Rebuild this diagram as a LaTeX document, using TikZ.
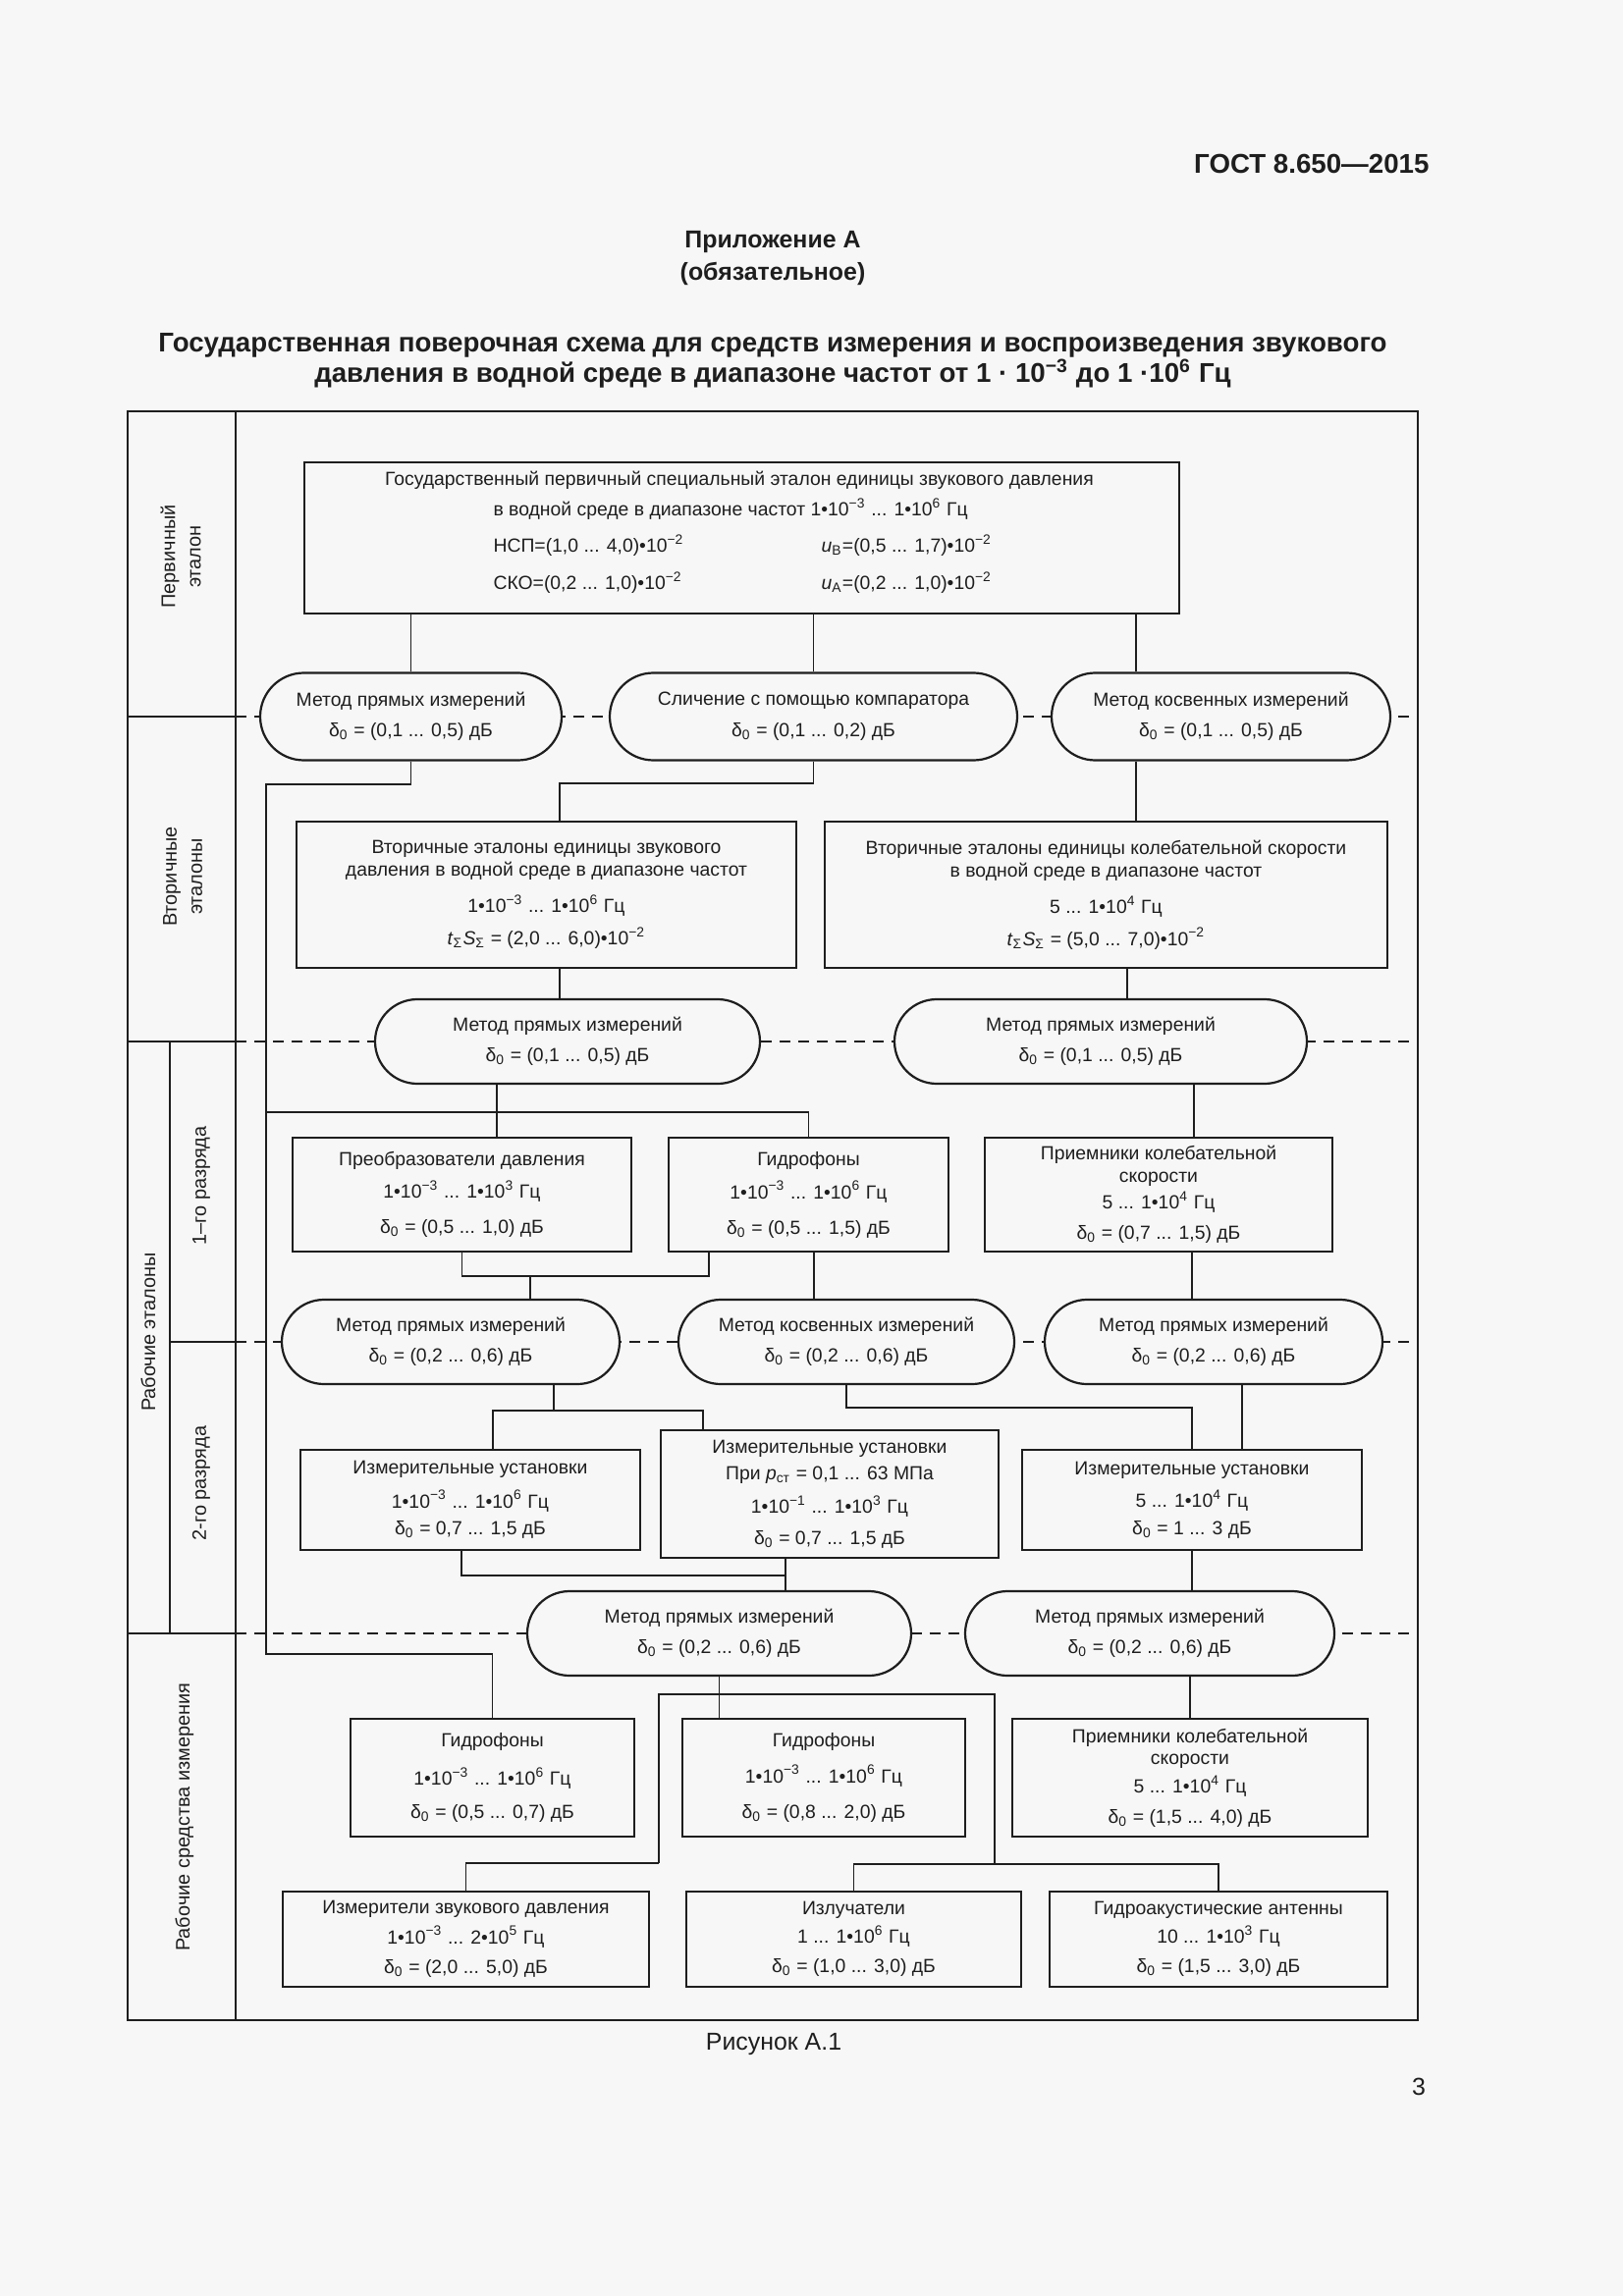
\documentclass[tikz,border=0pt]{standalone}
\usepackage{fontspec}
\setmainfont{Liberation Sans}
\usetikzlibrary{shapes.misc, positioning}

\definecolor{pagebg}{HTML}{F7F7F7}
\definecolor{ink}{HTML}{1E1E1E}

\newcommand{\pxl}{0.127mm}
\newcommand{\dz}{δ\textsubscript{0}}
\newcommand{\tp}[1]{10\textsuperscript{#1}}
\newcommand{\schfont}{\fontsize{7}{8.2}\selectfont}

\begin{document}
\begin{tikzpicture}[
    x=\pxl, y=-\pxl,
    every node/.style={text=ink},
    box/.style={
        rectangle, draw=ink, fill=pagebg,
        line width=1pt, inner sep=0pt,
        align=center, font=\schfont
    },
    method/.style={
        rounded rectangle, draw=ink, fill=pagebg,
        line width=0.8pt, inner sep=0pt,
        minimum height=86*\pxl,
        align=center, font=\schfont
    },
    txt/.style={inner sep=0pt, font=\schfont},
    side/.style={rotate=90, inner sep=0pt, align=center, font=\fontsize{7.2}{9.4}\selectfont},
    link/.style={draw=ink, line width=0.65pt},
    frameline/.style={draw=ink, line width=1pt},
    sepdash/.style={draw=ink, line width=0.8pt, dash pattern=on 4pt off 2.9pt},
]

\fill[pagebg] (0,0) rectangle (1653,2339);

% HEADER
\node[font=\bfseries\fontsize{10}{12}\selectfont, anchor=east, inner sep=0pt] (gost) at (1456,167) {ГОСТ 8.650—2015};
\node[font=\bfseries\fontsize{9}{11}\selectfont] (app) at (787,247) {Приложение А};
\node[font=\bfseries\fontsize{9}{11}\selectfont] (appnote) at (787,279) {(обязательное)};
\node[font=\bfseries\fontsize{10}{11.2}\selectfont, align=center] (title) at (787,367)
    {Государственная поверочная схема для средств измерения и воспроизведения звукового\\
     давления в водной среде в диапазоне частот от 1 · \tp{−3} до 1 ·\tp{6} Гц};

% FRAME
\draw[frameline] (130,419) rectangle (1444,2058);
\draw[frameline] (240,419) -- (240,2058);
\draw[frameline] (173,1061) -- (173,1664);
\draw[frameline] (130,730) -- (240,730);
\draw[frameline] (130,1061) -- (240,1061);
\draw[frameline] (173,1367) -- (240,1367);
\draw[frameline] (130,1664) -- (240,1664);
\draw[sepdash] (240,730) -- (1444,730);
\draw[sepdash] (240,1061) -- (1444,1061);
\draw[sepdash] (240,1367) -- (1444,1367);
\draw[sepdash] (240,1664) -- (1444,1664);

\node[side] (lab-prim) at (184,567) {Первичный\\эталон};
\node[side] (lab-sec) at (186,893) {Вторичные\\эталоны};
\node[side] (lab-work) at (151,1357) {Рабочие эталоны};
\node[side] (lab-r1) at (205,1208) {1–го разряда};
\node[side] (lab-r2) at (205,1511) {2-го разряда};
\node[side] (lab-tools) at (188,1851) {Рабочие средства измерения};

% PRIMARY STANDARD
\node[box, minimum width=891*\pxl, minimum height=154*\pxl] (prim) at (755.5,548) {};
\node[txt] (prim-t1) at (753,489) {Государственный первичный специальный эталон единицы звукового давления};
\node[txt, anchor=west] (prim-t2) at (502,519) {в водной среде в диапазоне частот 1•\tp{−3} ... 1•\tp{6} Гц};
\node[txt, anchor=west] (prim-nsp) at (502,556) {НСП=(1,0 ... 4,0)•\tp{−2}};
\node[txt, anchor=west] (prim-ub) at (836,556) {\textit{u}\textsubscript{B}=(0,5 ... 1,7)•\tp{−2}};
\node[txt, anchor=west] (prim-sko) at (502,594) {СКО=(0,2 ... 1,0)•\tp{−2}};
\node[txt, anchor=west] (prim-ua) at (836,594) {\textit{u}\textsubscript{A}=(0,2 ... 1,0)•\tp{−2}};

% ROW 1
\node[method, minimum width=307*\pxl, minimum height=89*\pxl] (direct1) at (418.5,730)
    {Метод прямых измерений\\[3.2pt]\dz{} = (0,1 ... 0,5) дБ};
\node[method, minimum width=415*\pxl, minimum height=89*\pxl] (compar) at (828.5,730)
    {Сличение с помощью компаратора\\[3.2pt]\dz{} = (0,1 ... 0,2) дБ};
\node[method, minimum width=345*\pxl, minimum height=89*\pxl] (indirect1) at (1243.5,730)
    {Метод косвенных измерений\\[3.2pt]\dz{} = (0,1 ... 0,5) дБ};

% SECONDARY STANDARDS
\node[box, minimum width=509*\pxl, minimum height=149*\pxl] (secP) at (556.5,911.5)
    {Вторичные эталоны единицы звукового\\[0.2pt]давления в водной среде в диапазоне частот\\[5.2pt]
     1•\tp{−3} ... 1•\tp{6} Гц\\[3.6pt]\textit{t}\textsubscript{Σ}\textit{S}\textsubscript{Σ} = (2,0 ... 6,0)•\tp{−2}};
\node[box, minimum width=573*\pxl, minimum height=149*\pxl] (secV) at (1126.5,911.5)
    {Вторичные эталоны единицы колебательной скорости\\[0.2pt]в водной среде в диапазоне частот\\[5.2pt]
     5 ... 1•\tp{4} Гц\\[3.6pt]\textit{t}\textsubscript{Σ}\textit{S}\textsubscript{Σ} = (5,0 ... 7,0)•\tp{−2}};

% ROW 3
\node[method, minimum width=392*\pxl] (direct2a) at (578,1061)
    {Метод прямых измерений\\[3.2pt]\dz{} = (0,1 ... 0,5) дБ};
\node[method, minimum width=420*\pxl] (direct2b) at (1121,1061)
    {Метод прямых измерений\\[3.2pt]\dz{} = (0,1 ... 0,5) дБ};

% 1-ST GRADE
\node[box, minimum width=345*\pxl, minimum height=116*\pxl] (convP) at (470.5,1217)
    {Преобразователи давления\\[3.7pt]1•\tp{−3} ... 1•\tp{3} Гц\\[4.7pt]\dz{} = (0,5 ... 1,0) дБ};
\node[box, minimum width=285*\pxl, minimum height=116*\pxl] (hyd1) at (823.5,1217)
    {Гидрофоны\\[4.2pt]1•\tp{−3} ... 1•\tp{6} Гц\\[4.7pt]\dz{} = (0,5 ... 1,5) дБ};
\node[box, minimum width=354*\pxl, minimum height=116*\pxl] (recv1) at (1180,1217)
    {Приемники колебательной\\[0pt]скорости\\[1.7pt]5 ... 1•\tp{4} Гц\\[2.9pt]\dz{} = (0,7 ... 1,5) дБ};

% ROW 5
\node[method, minimum width=344*\pxl] (direct3a) at (459,1367)
    {Метод прямых измерений\\[3.2pt]\dz{} = (0,2 ... 0,6) дБ};
\node[method, minimum width=342*\pxl] (indirect3) at (862,1367)
    {Метод косвенных измерений\\[3.2pt]\dz{} = (0,2 ... 0,6) дБ};
\node[method, minimum width=344*\pxl] (direct3b) at (1236,1367)
    {Метод прямых измерений\\[3.2pt]\dz{} = (0,2 ... 0,6) дБ};

% 2-ND GRADE
\node[box, minimum width=346*\pxl, minimum height=102*\pxl] (instP) at (479,1528)
    {Измерительные установки\\[4.2pt]1•\tp{−3} ... 1•\tp{6} Гц\\[1.7pt]\dz{} = 0,7 ... 1,5 дБ};
\node[box, minimum width=344*\pxl, minimum height=130*\pxl] (instH) at (845,1522)
    {Измерительные установки\\[1.7pt]При \textit{p}\textsubscript{ст} = 0,1 ... 63 МПа\\[4.2pt]1•\tp{−1} ... 1•\tp{3} Гц\\[3.2pt]\dz{} = 0,7 ... 1,5 дБ};
\node[box, minimum width=346*\pxl, minimum height=102*\pxl] (instV) at (1214,1528)
    {Измерительные установки\\[3.9pt]5 ... 1•\tp{4} Гц\\[1.7pt]\dz{} = 1 ... 3 дБ};

% ROW 7
\node[method, minimum width=391*\pxl] (direct4a) at (732.5,1664)
    {Метод прямых измерений\\[3.2pt]\dz{} = (0,2 ... 0,6) дБ};
\node[method, minimum width=376*\pxl] (direct4b) at (1171,1664)
    {Метод прямых измерений\\[3.2pt]\dz{} = (0,2 ... 0,6) дБ};

% WORKING INSTRUMENTS
\node[box, minimum width=289*\pxl, minimum height=120*\pxl] (hyd2a) at (501.5,1811)
    {Гидрофоны\\[6pt]1•\tp{−3} ... 1•\tp{6} Гц\\[4pt]\dz{} = (0,5 ... 0,7) дБ};
\node[box, minimum width=288*\pxl, minimum height=120*\pxl] (hyd2b) at (839,1811)
    {Гидрофоны\\[5pt]1•\tp{−3} ... 1•\tp{6} Гц\\[5pt]\dz{} = (0,8 ... 2,0) дБ};
\node[box, minimum width=362*\pxl, minimum height=120*\pxl] (recv2) at (1212,1811)
    {Приемники колебательной\\[0pt]скорости\\[2.2pt]5 ... 1•\tp{4} Гц\\[2.9pt]\dz{} = (1,5 ... 4,0) дБ};
\node[box, minimum width=373*\pxl, minimum height=97*\pxl] (meterP) at (474.5,1975.5)
    {Измерители звукового давления\\[2.9pt]1•\tp{−3} ... 2•\tp{5} Гц\\[2.9pt]\dz{} = (2,0 ... 5,0) дБ};
\node[box, minimum width=341*\pxl, minimum height=97*\pxl] (emit) at (869.5,1975.5)
    {Излучатели\\[2.3pt]1 ... 1•\tp{6} Гц\\[2.5pt]\dz{} = (1,0 ... 3,0) дБ};
\node[box, minimum width=344*\pxl, minimum height=97*\pxl] (antenna) at (1241,1975.5)
    {Гидроакустические антенны\\[2.3pt]10 ... 1•\tp{3} Гц\\[2.5pt]\dz{} = (1,5 ... 3,0) дБ};

% CONNECTORS
\coordinate (x3) at (1157,0);
\draw[link] (prim.south -| direct1.north) -- (direct1.north);
\draw[link] (prim.south -| compar.north) -- (compar.north);
\draw[link] (prim.south -| x3) -- (indirect1.north -| x3);

\coordinate (trunk1) at (271,799);
\coordinate (trunk2) at (271,1685);
\coordinate (br1) at (271,1133);
\draw[link] (direct1.south) |- (trunk1) -- (trunk2) -| (hyd2a.north);
\draw[link] (br1) -| (hyd1.north);

\coordinate (xA) at (570,798);
\coordinate (xB) at (1148,0);
\draw[link] (compar.south) |- (xA) -- (xA |- secP.north);
\draw[link] (indirect1.south -| x3) -- (secV.north -| x3);
\draw[link] (secP.south -| xA) -- (direct2a.north -| xA);
\draw[link] (secV.south -| xB) -- (direct2b.north -| xB);

\coordinate (xC) at (506,0);
\coordinate (xE) at (1216,0);
\draw[link] (direct2a.south -| xC) -- (convP.north -| xC);
\draw[link] (direct2b.south -| xE) -- (recv1.north -| xE);

\coordinate (jCD) at (722,1300);
\coordinate (x6) at (540,1300);
\coordinate (x7) at (829,0);
\coordinate (x8) at (1214,0);
\draw[link] (convP.south) |- (jCD) -- (jCD |- hyd1.south);
\draw[link] (x6) -- (x6 |- direct3a.north);
\draw[link] (hyd1.south -| x7) -- (indirect3.north -| x7);
\draw[link] (recv1.south -| x8) -- (direct3b.north -| x8);

\coordinate (x9) at (564,1437);
\coordinate (jFG1) at (502,1437);
\coordinate (jFG2) at (716,1437);
\coordinate (jH) at (1214,1434);
\coordinate (x10) at (1265,0);
\draw[link] (direct3a.south -| x9) -- (x9);
\draw[link] (instP.north -| jFG1) -- (jFG1) -- (jFG2) -- (instH.north -| jFG2);
\draw[link] (indirect3.south) |- (jH) -- (instV.north);
\draw[link] (direct3b.south -| x10) -- (instV.north -| x10);

\coordinate (jF) at (470,1605);
\coordinate (jG) at (800,1605);
\draw[link] (instP.south -| jF) -- (jF) -- (jG);
\draw[link] (instH.south -| jG) -- (direct4a.north -| jG);
\draw[link] (instV.south) -- (instV.south |- direct4b.north);

\coordinate (jIa) at (671,1726);
\coordinate (jIb) at (1013,1726);
\coordinate (jL) at (671,1898);
\coordinate (jM) at (1013,1899);
\draw[link] (direct4a.south) -- (direct4a.south |- hyd2b.north);
\draw[link] (jL) -- (jIa) -- (jIb) -- (jM);
\draw[link] (jL) -| (meterP.north);
\draw[link] (emit.north) -- (emit.north |- jM) -- (antenna.north |- jM) -- (antenna.north);
\draw[link] (recv2.north) -- (recv2.north |- direct4b.south);

% FOOTER
\node[font=\fontsize{9}{11}\selectfont] (fig) at (788,2082) {Рисунок А.1};
\node[font=\fontsize{9}{11}\selectfont] (page) at (1445,2126) {3};

\end{tikzpicture}
\end{document}
